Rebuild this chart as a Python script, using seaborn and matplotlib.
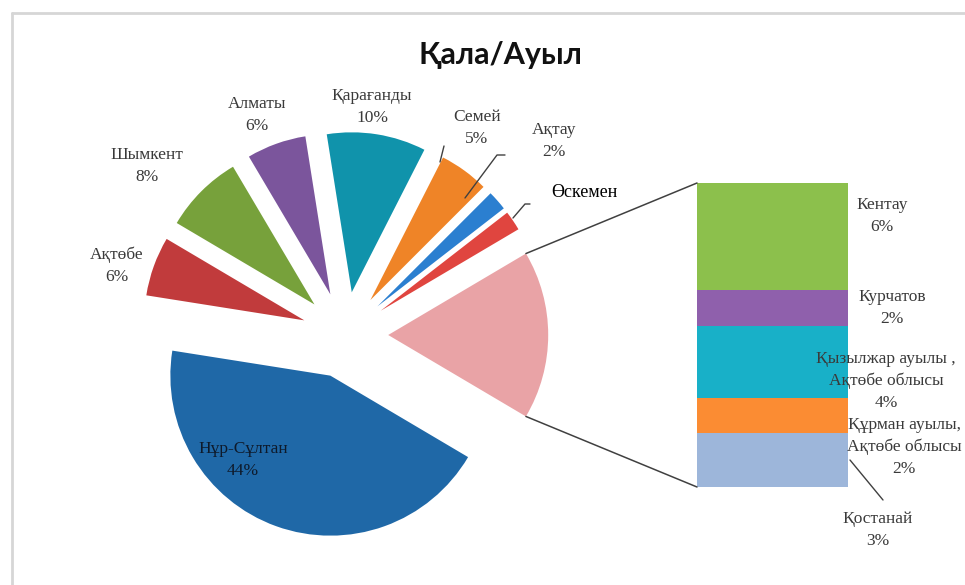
import numpy as np
import pandas as pd
import seaborn as sns
import matplotlib.pyplot as plt
from matplotlib.patches import ConnectionPatch
from matplotlib.lines import Line2D

# pie part (counter-clockwise after the "other" slice)
main_names = ["Өскемен", "Ақтау", "Семей", "Қарағанды", "Алматы", "Шымкент", "Ақтөбе", "Нұр-Сұлтан"]
main_values = [2, 2, 5, 10, 6, 8, 6, 44]
# bar part (bottom to top)
bar_names = ["Қостанай", "Құрман ауылы,\nАқтөбе облысы", "Қызылжар ауылы ,\nАқтөбе облысы", "Курчатов", "Кентау"]
bar_values = [3, 2, 4, 2, 6]
title = "Қала/Ауыл"

main_colors = ["#e0453f", "#2b7fd0", "#ef8427", "#1093ab", "#7b559c", "#77a13b", "#c13b3c", "#1f68a7"]
other_color = "#e9a3a6"
bar_colors = ["#9db6da", "#fb8c33", "#18b0c8", "#8f60ac", "#8cc04c"]

sns.set_theme(style="white")
plt.rcParams["font.family"] = ["Liberation Serif", "DejaVu Serif"]

W, H = 965, 585
fig = plt.figure(figsize=(W / 100, H / 100), dpi=100)
fig.patch.set_facecolor("white")

def fx(px, py):
    return px / W, 1 - py / H

# ---- pie ----
cx, cy, R = 345, 335, 160
ax = fig.add_axes([0, 0, 1, 1])
other = sum(bar_values)
vals = [other] + main_values
cols = [other_color] + main_colors
expl = [0.27] * len(vals)
start = -other / sum(vals) * 360 / 2
ax.pie(vals, colors=cols, explode=expl, startangle=start, counterclock=True,
       radius=1, center=(0, 0), frame=True,
       wedgeprops=dict(linewidth=0))
ax.set_xlim(-cx / R, (W - cx) / R)
ax.set_ylim((cy - H) / R, cy / R)
ax.set_aspect("auto")
ax.axis("off")

# ---- stacked bar ----
bx0, by0, bx1, by1 = 697, 183, 848, 487
bax = fig.add_axes([bx0 / W, 1 - by1 / H, (bx1 - bx0) / W, (by1 - by0) / H])
cum = np.cumsum(bar_values)
df = pd.DataFrame({"g": ["x"] * len(bar_values), "cum": cum, "name": bar_names})
order = bar_names[::-1]
sns.barplot(data=df, x="g", y="cum", hue="name", hue_order=order,
            palette=dict(zip(bar_names, bar_colors)), dodge=False, saturation=1,
            width=1, errorbar=None, legend=False, linewidth=0, ax=bax)
bax.set_xlim(-0.5, 0.5)
bax.set_ylim(0, other)
bax.axis("off")

# connectors from the "other" slice to the bar
half = np.deg2rad(-start)
ex = expl[0]
for sgn, yb in [(1, other), (-1, 0)]:
    xa = ex + np.cos(half)
    ya = sgn * np.sin(half)
    con = ConnectionPatch(xyA=(xa, ya), coordsA=ax.transData,
                          xyB=(-0.5, yb), coordsB=bax.transData,
                          color="#404040", lw=1.1)
    fig.add_artist(con)

# ---- labels ----
lab_color = "#3a3a3a"
main_pos = {
    "Өскемен": (584, 193),
    "Ақтау": (554, 141),
    "Семей": (477, 128),
    "Қарағанды": (372, 107),
    "Алматы": (257, 115),
    "Шымкент": (147, 166),
    "Ақтөбе": (117, 266),
    "Нұр-Сұлтан": (243, 460),
}
for n, v in zip(main_names, main_values):
    px, py = main_pos[n]
    if n == "Өскемен":
        fig.text(*fx(px, py), n, ha="center", va="center", fontsize=13, color="black")
        continue
    c = "#0e1a2b" if n == "Нұр-Сұлтан" else lab_color
    fig.text(*fx(px, py), f"{n}\n{v}%", ha="center", va="center", fontsize=12.5,
             color=c, linespacing=1.5)

bar_pos = [(878, 530), (904, 447), (886, 381), (892, 308), (882, 216)]
for n, v, (px, py) in zip(bar_names, bar_values, bar_pos):
    fig.text(*fx(px, py), f"{n}\n{v}%", ha="center", va="center", fontsize=12.5,
             color=lab_color, linespacing=1.5)

# leader lines
leaders = [
    [(440, 162), (444, 146)],
    [(465, 198), (497, 155), (505, 155)],
    [(513, 218), (525, 204), (530, 204)],
    [(850, 460), (883, 500)],
]
for pts in leaders:
    xs, ys = zip(*[fx(p[0], p[1]) for p in pts])
    fig.add_artist(Line2D(xs, ys, color="#404040", lw=1.0, transform=fig.transFigure))

# title
fig.text(*fx(500, 55), title, ha="center", va="center", fontsize=22,
         fontweight="bold", family=["Lato", "DejaVu Sans"], color="#111111")

# chart frame
for pts in [[(12, 13), (12, H)], [(12, 13), (W, 13)]]:
    xs, ys = zip(*[fx(p[0], p[1]) for p in pts])
    fig.add_artist(Line2D(xs, ys, color="#d6d6d6", lw=2, transform=fig.transFigure))

fig.savefig("out.png", dpi=100, facecolor="white")
